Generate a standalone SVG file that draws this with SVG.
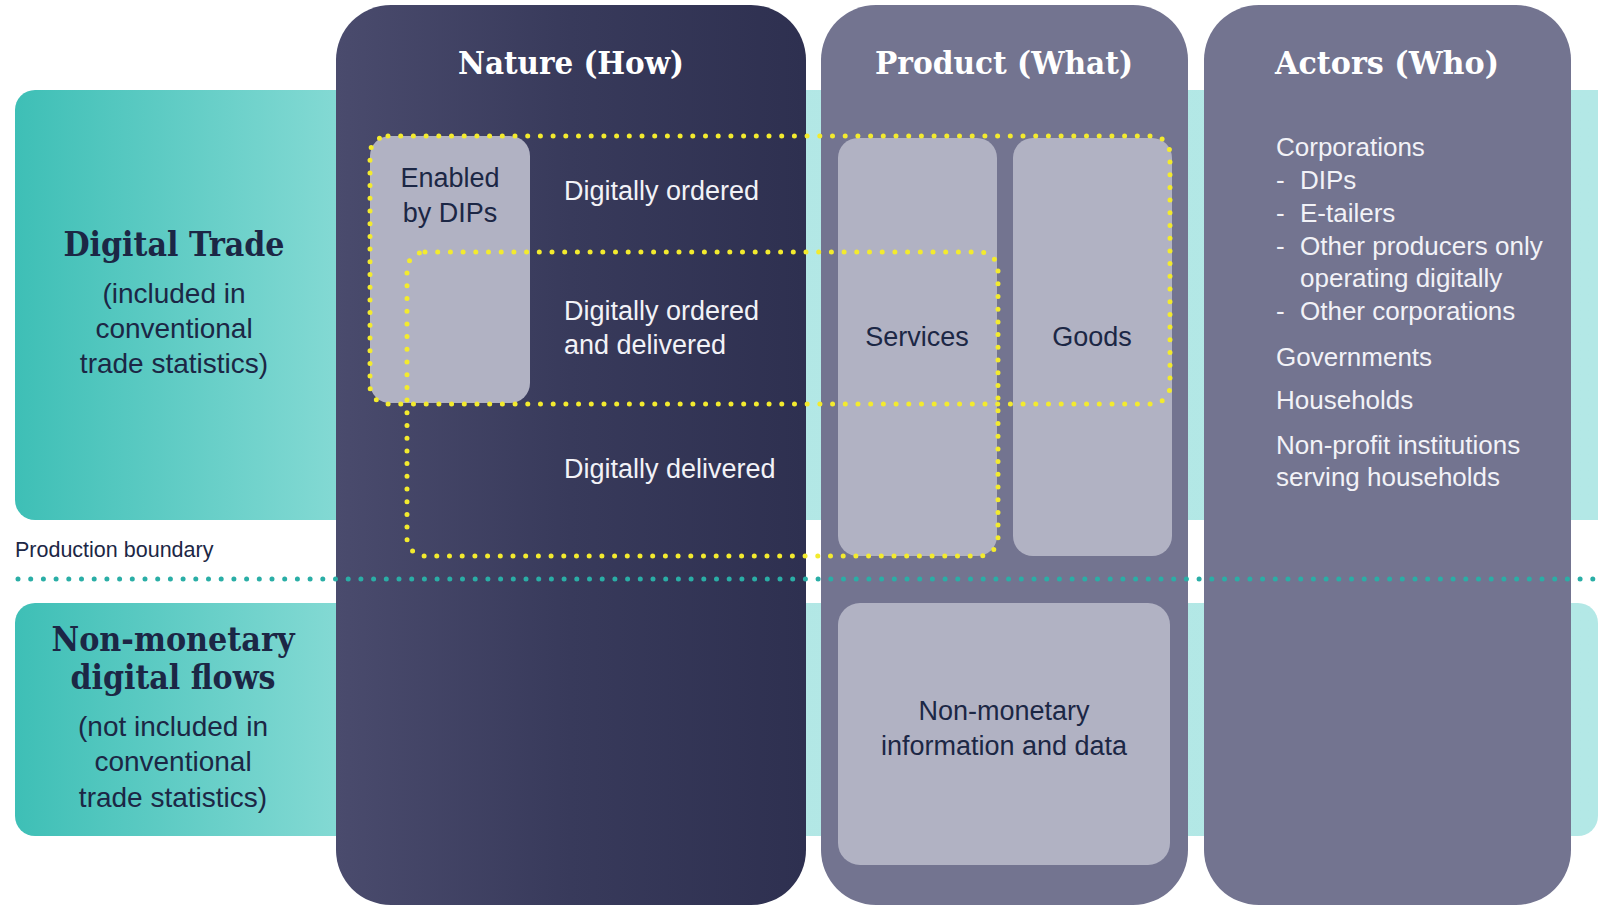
<svg xmlns="http://www.w3.org/2000/svg" width="1598" height="908" viewBox="0 0 1598 908">
<defs>
<linearGradient id="tealGrad" gradientUnits="userSpaceOnUse" x1="15" y1="0" x2="1598" y2="0">
<stop offset="0" stop-color="#3ebfb6"/>
<stop offset="0.2" stop-color="#82d9d3"/>
<stop offset="0.3" stop-color="#b2e7e5"/>
<stop offset="1" stop-color="#b3e8e6"/>
</linearGradient>
<linearGradient id="natureGrad" x1="0" y1="0" x2="1" y2="0">
<stop offset="0" stop-color="#4a4b6d"/>
<stop offset="0.5" stop-color="#383a5b"/>
<stop offset="1" stop-color="#2e3050"/>
</linearGradient>
</defs>
<style>
.band{fill:url(#tealGrad)}
.col{fill:#737490}
.box{fill:#b1b2c3}
.head{font-family:"DejaVu Serif Condensed","DejaVu Serif",serif;font-weight:bold;font-size:32px;fill:#ffffff;text-anchor:middle}
.lhead{font-family:"DejaVu Serif Condensed","DejaVu Serif",serif;font-weight:bold;font-size:33px;fill:#1c2745;text-anchor:middle}
.lsub{font-family:"Liberation Sans",Arial,sans-serif;font-size:28px;fill:#1c2745;text-anchor:middle}
.wt{font-family:"Liberation Sans",Arial,sans-serif;font-size:27px;fill:#f2f2f7}
.dt{font-family:"Liberation Sans",Arial,sans-serif;font-size:27px;fill:#1c2745;text-anchor:middle}
.at{font-family:"Liberation Sans",Arial,sans-serif;font-size:26px;fill:#f2f2f7}
.yel{fill:none;stroke:#f3eb2e;stroke-width:5;stroke-linecap:round;stroke-dasharray:0 12.7}
.tealdot{fill:none;stroke:#2aaea6;stroke-width:5;stroke-linecap:round;stroke-dasharray:0 12.7}
</style>
<rect width="1598" height="908" fill="#ffffff"/>

<g id="band-digital-trade">
<rect class="band" x="15" y="90" width="1603" height="430" rx="20"/>
</g>
<g id="band-non-monetary">
<rect class="band" x="15" y="603" width="1583" height="233" rx="20"/>
</g>

<g id="col-nature">
<rect x="336" y="5" width="470" height="900" rx="55" fill="url(#natureGrad)"/>
<text class="head" x="571" y="74" textLength="226" lengthAdjust="spacingAndGlyphs">Nature (How)</text>
</g>
<g id="col-product">
<rect class="col" x="821" y="5" width="367" height="900" rx="55"/>
<text class="head" x="1004" y="74" textLength="258" lengthAdjust="spacingAndGlyphs">Product (What)</text>
</g>
<g id="col-actors">
<rect class="col" x="1204" y="5" width="367" height="900" rx="55"/>
<text class="head" x="1387" y="74" textLength="224" lengthAdjust="spacingAndGlyphs">Actors (Who)</text>
</g>

<g id="label-digital-trade">
<text class="lhead" x="174" y="256" textLength="221" lengthAdjust="spacingAndGlyphs">Digital Trade</text>
<text class="lsub" x="174" y="303">(included in</text>
<text class="lsub" x="174" y="338">conventional</text>
<text class="lsub" x="174" y="373">trade statistics)</text>
</g>
<g id="label-non-monetary">
<text class="lhead" x="173" y="651" textLength="243" lengthAdjust="spacingAndGlyphs">Non-monetary</text>
<text class="lhead" x="173" y="689" textLength="205" lengthAdjust="spacingAndGlyphs">digital flows</text>
<text class="lsub" x="173" y="736">(not included in</text>
<text class="lsub" x="173" y="771">conventional</text>
<text class="lsub" x="173" y="807">trade statistics)</text>
</g>
<g id="label-production-boundary">
<text x="15" y="557" font-family="Liberation Sans, Arial, sans-serif" font-size="21.5" fill="#1c2745">Production boundary</text>
</g>

<g id="node-enabled-dips">
<rect class="box" x="370" y="136" width="160" height="267" rx="20"/>
<text class="dt" x="450" y="187">Enabled</text>
<text class="dt" x="450" y="222">by DIPs</text>
</g>
<g id="node-digitally-ordered">
<text class="wt" x="564" y="200">Digitally ordered</text>
</g>
<g id="node-ordered-delivered">
<text class="wt" x="564" y="320">Digitally ordered</text>
<text class="wt" x="564" y="354">and delivered</text>
</g>
<g id="node-digitally-delivered">
<text class="wt" x="564" y="478">Digitally delivered</text>
</g>
<g id="node-services">
<rect class="box" x="838" y="138" width="159" height="418" rx="20"/>
<text class="dt" x="917" y="346" font-size="28">Services</text>
</g>
<g id="node-goods">
<rect class="box" x="1013" y="138" width="159" height="418" rx="20"/>
<text class="dt" x="1092" y="346" font-size="28">Goods</text>
</g>
<g id="node-non-monetary-info">
<rect class="box" x="838" y="603" width="332" height="262" rx="22"/>
<text class="dt" x="1004" y="720" font-size="28">Non-monetary</text>
<text class="dt" x="1004" y="755" font-size="28">information and data</text>
</g>
<g id="node-actors-list">
<text class="at" x="1276" y="156">Corporations</text>
<text class="at" x="1276" y="189">-</text><text class="at" x="1300" y="189">DIPs</text>
<text class="at" x="1276" y="222">-</text><text class="at" x="1300" y="222">E-tailers</text>
<text class="at" x="1276" y="255">-</text><text class="at" x="1300" y="255">Other producers only</text>
<text class="at" x="1300" y="287">operating digitally</text>
<text class="at" x="1276" y="320">-</text><text class="at" x="1300" y="320">Other corporations</text>
<text class="at" x="1276" y="366">Governments</text>
<text class="at" x="1276" y="409">Households</text>
<text class="at" x="1276" y="454">Non-profit institutions</text>
<text class="at" x="1276" y="486">serving households</text>
</g>

<g id="connectors">
<line class="tealdot" x1="18" y1="579" x2="1598" y2="579"/>
<rect class="yel" x="370" y="136" width="800" height="268" rx="18"/>
<rect class="yel" x="407" y="252" width="591" height="304" rx="18"/>
</g>
</svg>
